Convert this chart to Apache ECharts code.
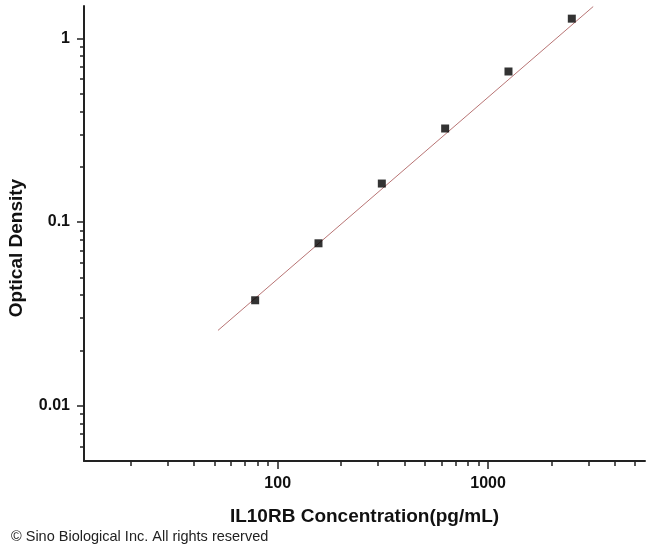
<!DOCTYPE html>
<html>
<head>
<meta charset="utf-8">
<script src="https://cdn.jsdelivr.net/npm/echarts@6/dist/echarts.min.js"></script>
<style>
html, body { margin: 0; padding: 0; background: #fff; }
#container { width: 650px; height: 554px; }
</style>
</head>
<body>
<div id="container"></div>
<script>
// standard points (pg/mL, OD)
var concentration = [78.125, 156.25, 312.5, 625, 1250, 2500];
var opticalDensity = [0.0375, 0.0766, 0.162, 0.323, 0.66, 1.28];
// fitted line ends as drawn
var fitX = [52, 3160];
var fitY = [0.0257, 1.49];
// tick values
var xMajor = [100, 1000];
var xMinor = [20, 30, 40, 50, 60, 70, 80, 90, 200, 300, 400, 500, 600, 700, 800, 900, 2000, 3000, 4000, 5000];
var yMajor = [0.01, 0.1, 1];
var yMinor = [0.006, 0.007, 0.008, 0.009, 0.02, 0.03, 0.04, 0.05, 0.06, 0.07, 0.08, 0.09, 0.2, 0.3, 0.4, 0.5, 0.6, 0.7, 0.8, 0.9];

var dom = document.getElementById('container');
var myChart = echarts.init(dom);
var fontFamily = 'Liberation Sans, Arial, sans-serif';
var axisColor = '#222';

var pts = concentration.map(function(c, i){ return [c, opticalDensity[i]]; });
var fit = fitX.map(function(c, i){ return [c, fitY[i]]; });

var plainNum = function(v){ return String(+(+v).toPrecision(6)); };

function logX(extra){
	return Object.assign({
		type: 'log', logBase: 10, min: 12, max: 5570, gridIndex: 0, position: 'bottom',
		splitLine: { show: false }
	}, extra);
}
function logY(extra){
	return Object.assign({
		type: 'log', logBase: 10, min: 0.005, max: 1.5, gridIndex: 0, position: 'left',
		splitLine: { show: false }
	}, extra);
}

var option = {
	animation: false,
	backgroundColor: '#fff',
	grid: { left: 84, right: 5, top: 6, bottom: 93, containLabel: false },
	xAxis: [
		logX({
			name: 'IL10RB Concentration(pg/mL)',
			nameLocation: 'middle',
			nameGap: 46,
			nameTextStyle: { fontFamily: fontFamily, fontWeight: 'bold', fontSize: 19, color: '#111' },
			axisLine: { show: true, lineStyle: { color: axisColor, width: 2 } },
			axisTick: { show: true, inside: false, length: 8, lineStyle: { color: axisColor, width: 1.5 }, customValues: xMajor },
			axisLabel: { show: true, margin: 15, fontFamily: fontFamily, fontWeight: 'bold', fontSize: 16, color: '#111', customValues: xMajor,
				formatter: plainNum }
		}),
		logX({
			axisLine: { show: false },
			axisTick: { show: true, inside: false, length: 5, lineStyle: { color: axisColor, width: 1.5 }, customValues: xMinor },
			axisLabel: { show: false }
		})
	],
	yAxis: [
		logY({
			axisLine: { show: true, lineStyle: { color: axisColor, width: 2 } },
			axisTick: { show: true, inside: false, length: 7, lineStyle: { color: axisColor, width: 1.5 }, customValues: yMajor },
			axisLabel: { show: true, margin: 14, fontFamily: fontFamily, fontWeight: 'bold', fontSize: 16, color: '#111', customValues: yMajor,
				formatter: plainNum }
		}),
		logY({
			axisLine: { show: false },
			axisTick: { show: true, inside: false, length: 4, lineStyle: { color: axisColor, width: 1.5 }, customValues: yMinor },
			axisLabel: { show: false }
		})
	],
	graphic: [
		{
			type: 'text', x: 17, y: 248, rotation: Math.PI / 2,
			style: { text: 'Optical Density', fontFamily: fontFamily, fontWeight: 'bold', fontSize: 19, fill: '#111',
				textAlign: 'center', textVerticalAlign: 'middle' }
		},
		{
			type: 'text', x: 11, y: 537,
			style: { text: '\u00a9 Sino Biological Inc. All rights reserved', fontFamily: fontFamily, fontSize: 14.5, fill: '#222',
				textAlign: 'left', textVerticalAlign: 'middle' }
		}
	],
	series: [
		{
			name: 'fit', type: 'line', xAxisIndex: 0, yAxisIndex: 0,
			data: fit, showSymbol: false, symbol: 'none',
			lineStyle: { color: '#b87474', width: 1 },
			z: 2
		},
		{
			name: 'standard', type: 'scatter', xAxisIndex: 0, yAxisIndex: 0,
			data: pts, symbol: 'rect', symbolSize: 8,
			itemStyle: { color: '#000' },
			z: 3
		}
	]
};
myChart.setOption(option);
</script>
</body>
</html>
